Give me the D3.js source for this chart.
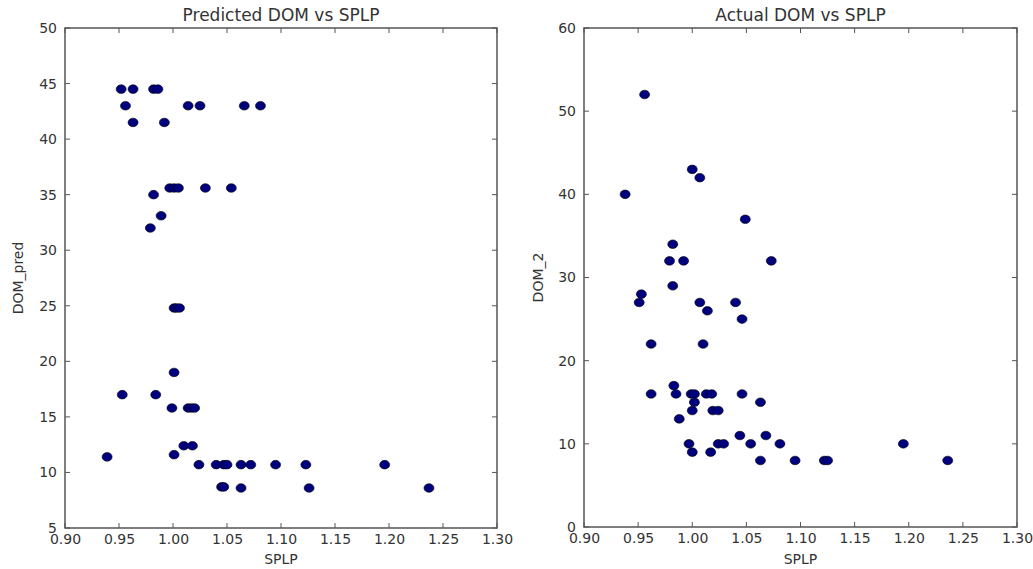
<!DOCTYPE html>
<html>
<head>
<meta charset="utf-8">
<script src="https://cdn.jsdelivr.net/npm/d3@7"></script>
<style>
  body { margin: 0; background: #fff; }
  text { font-family: "DejaVu Sans", sans-serif; fill: #333; }
</style>
</head>
<body>
<div class="chart"></div>
<script>
// SPLP values and predicted DOM (left panel)
var predSPLP = [0.952, 0.963, 0.982, 0.986, 0.956, 1.014, 1.025, 1.066, 1.081, 0.963, 0.992,
  0.997, 1.001, 1.005, 1.030, 1.054, 0.982, 0.989, 0.979, 1.001, 1.003, 1.006,
  1.001, 0.953, 0.984, 0.999, 1.014, 1.017, 1.020, 1.010, 1.018, 1.001, 0.939,
  1.024, 1.040, 1.047, 1.050, 1.063, 1.072, 1.095, 1.123, 1.196,
  1.045, 1.047, 1.063, 1.126, 1.237];
var predDOM = [44.5, 44.5, 44.5, 44.5, 43, 43, 43, 43, 43, 41.5, 41.5,
  35.6, 35.6, 35.6, 35.6, 35.6, 35, 33.1, 32, 24.8, 24.8, 24.8,
  19, 17, 17, 15.8, 15.8, 15.8, 15.8, 12.4, 12.4, 11.6, 11.4,
  10.7, 10.7, 10.7, 10.7, 10.7, 10.7, 10.7, 10.7, 10.7,
  8.7, 8.7, 8.6, 8.6, 8.6];

// SPLP values and actual DOM (right panel)
var actSPLP = [0.956, 1.000, 1.007, 0.938, 1.049, 0.982, 0.979, 0.992, 1.073, 0.982,
  0.953, 0.951, 1.007, 1.040, 1.014, 1.046, 0.962, 1.010,
  0.983, 0.962, 0.985, 0.999, 1.002, 1.013, 1.018, 1.046, 1.002, 1.063,
  0.988, 1.000, 1.019, 1.024, 1.044, 1.068, 0.997, 1.024, 1.029, 1.054,
  1.081, 1.195, 1.000, 1.017, 1.063, 1.095, 1.122, 1.125, 1.236];
var actDOM = [52, 43, 42, 40, 37, 34, 32, 32, 32, 29,
  28, 27, 27, 27, 26, 25, 22, 22,
  17, 16, 16, 16, 16, 16, 16, 16, 15, 15,
  13, 14, 14, 14, 11, 11, 10, 10, 10, 10,
  10, 10, 9, 9, 8, 8, 8, 8, 8];

var xTicks = [0.90, 0.95, 1.00, 1.05, 1.10, 1.15, 1.20, 1.25, 1.30];
var predTicks = [5, 10, 15, 20, 25, 30, 35, 40, 45, 50];
var actTicks = [0, 10, 20, 30, 40, 50, 60];

var width = 1033, height = 569;
var svg = d3.select(".chart")
  .append("svg")
  .attr("width", width)
  .attr("height", height);

function panel(opts) {
  var x = d3.scaleLinear().domain([0.90, 1.30]).range([opts.left, opts.right]);
  var y = d3.scaleLinear().domain(opts.yDomain).range([opts.bottom, opts.top]);
  var g = svg.append("g");

  // inward ticks on all four sides, matplotlib classic style
  var bottomAxis = d3.axisBottom(x).tickValues(xTicks).tickSize(0).tickPadding(6)
    .tickFormat(d3.format(".2f"));
  var leftAxis = d3.axisLeft(y).tickValues(opts.yTicks).tickSize(0).tickPadding(8)
    .tickFormat(d3.format("d"));

  var gx = g.append("g").attr("transform", "translate(0," + opts.bottom + ")").call(bottomAxis);
  var gy = g.append("g").attr("transform", "translate(" + opts.left + ",0)").call(leftAxis);
  [gx, gy].forEach(function(a) {
    a.select(".domain").remove();
    a.selectAll("text").style("font-size", "14px").style("fill", "#333")
      .style("font-family", "DejaVu Sans, sans-serif");
  });

  var tk = 5;
  xTicks.forEach(function(t) {
    g.append("line").attr("x1", x(t)).attr("x2", x(t))
      .attr("y1", opts.bottom).attr("y2", opts.bottom - tk)
      .attr("stroke", "#555");
    g.append("line").attr("x1", x(t)).attr("x2", x(t))
      .attr("y1", opts.top).attr("y2", opts.top + tk)
      .attr("stroke", "#555");
  });
  opts.yTicks.forEach(function(t) {
    g.append("line").attr("x1", opts.left).attr("x2", opts.left + tk)
      .attr("y1", y(t)).attr("y2", y(t))
      .attr("stroke", "#555");
    g.append("line").attr("x1", opts.right).attr("x2", opts.right - tk)
      .attr("y1", y(t)).attr("y2", y(t))
      .attr("stroke", "#555");
  });

  g.selectAll("ellipse")
    .data(opts.xs.map(function(d, i) { return [d, opts.ys[i]]; }))
    .enter()
    .append("ellipse")
    .attr("cx", function(d) { return x(d[0]); })
    .attr("cy", function(d) { return y(d[1]); })
    .attr("rx", 5)
    .attr("ry", 4.3)
    .style("fill", "#00007f")
    .style("stroke", "#000")
    .style("stroke-width", 0.6);

  g.append("rect")
    .attr("x", opts.left).attr("y", opts.top)
    .attr("width", opts.right - opts.left).attr("height", opts.bottom - opts.top)
    .attr("fill", "none").attr("stroke", "#555").attr("stroke-width", 1.5);

  g.append("text")
    .attr("x", (opts.left + opts.right) / 2).attr("y", 21)
    .attr("text-anchor", "middle")
    .style("font-size", "17px")
    .text(opts.title);

  g.append("text")
    .attr("x", (opts.left + opts.right) / 2).attr("y", 564)
    .attr("text-anchor", "middle")
    .style("font-size", "14px")
    .text("SPLP");

  g.append("text")
    .attr("transform", "translate(" + opts.yLabelX + "," + ((opts.top + opts.bottom) / 2) + ") rotate(-90)")
    .attr("text-anchor", "middle")
    .style("font-size", "14px")
    .text(opts.yLabel);
}

panel({
  left: 65, right: 497, top: 28, bottom: 528,
  yDomain: [5, 50], yTicks: predTicks,
  xs: predSPLP, ys: predDOM,
  title: "Predicted DOM vs SPLP", yLabel: "DOM_pred", yLabelX: 23
});

panel({
  left: 584, right: 1017, top: 28, bottom: 527,
  yDomain: [0, 60], yTicks: actTicks,
  xs: actSPLP, ys: actDOM,
  title: "Actual DOM vs SPLP", yLabel: "DOM_2", yLabelX: 543
});
</script>
</body>
</html>
